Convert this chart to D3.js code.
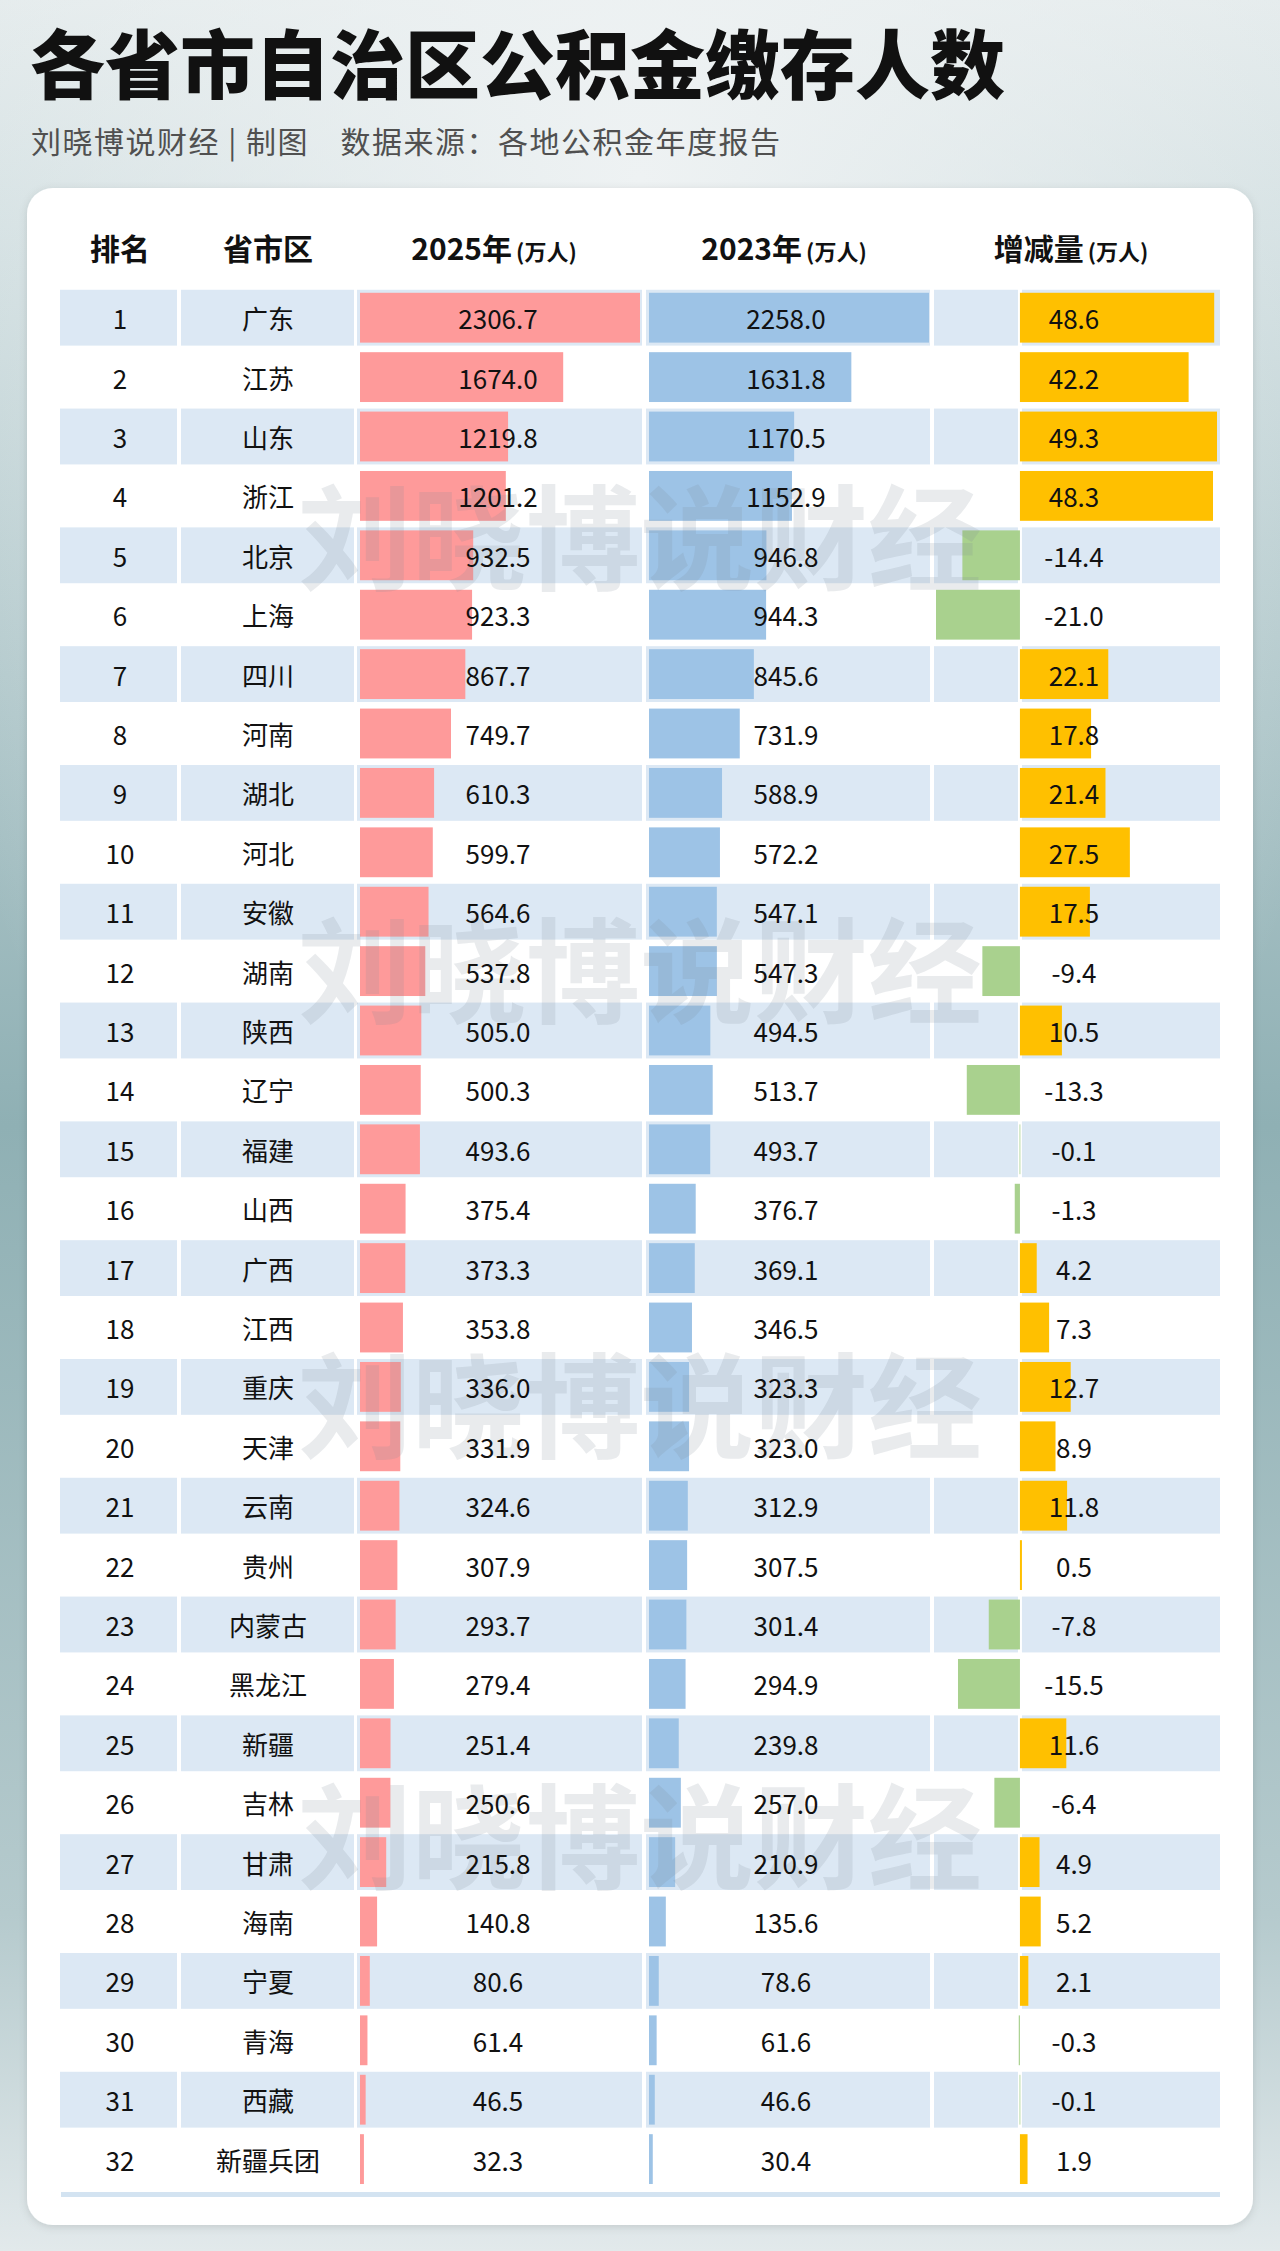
<!DOCTYPE html>
<html>
<head>
<meta charset="utf-8">
<script src="https://cdn.jsdelivr.net/npm/d3@7"></script>
<style>
  html, body { margin: 0; padding: 0; }
  body { width: 1280px; height: 2251px; overflow: hidden; }
  svg { display: block; }
</style>
</head>
<body>
<div id="chart"></div>
<script>
"use strict";

const provinces = ["广东", "江苏", "山东", "浙江", "北京", "上海", "四川", "河南", "湖北", "河北",
  "安徽", "湖南", "陕西", "辽宁", "福建", "山西", "广西", "江西", "重庆", "天津",
  "云南", "贵州", "内蒙古", "黑龙江", "新疆", "吉林", "甘肃", "海南", "宁夏", "青海",
  "西藏", "新疆兵团"];
const ranks = d3.range(1, provinces.length + 1);
const v2025 = [2306.7, 1674.0, 1219.8, 1201.2, 932.5, 923.3, 867.7, 749.7, 610.3, 599.7,
  564.6, 537.8, 505.0, 500.3, 493.6, 375.4, 373.3, 353.8, 336.0, 331.9,
  324.6, 307.9, 293.7, 279.4, 251.4, 250.6, 215.8, 140.8, 80.6, 61.4,
  46.5, 32.3];
const v2023 = [2258.0, 1631.8, 1170.5, 1152.9, 946.8, 944.3, 845.6, 731.9, 588.9, 572.2,
  547.1, 547.3, 494.5, 513.7, 493.7, 376.7, 369.1, 346.5, 323.3, 323.0,
  312.9, 307.5, 301.4, 294.9, 239.8, 257.0, 210.9, 135.6, 78.6, 61.6,
  46.6, 30.4];
const change = [48.6, 42.2, 49.3, 48.3, -14.4, -21.0, 22.1, 17.8, 21.4, 27.5,
  17.5, -9.4, 10.5, -13.3, -0.1, -1.3, 4.2, 7.3, 12.7, 8.9,
  11.8, 0.5, -7.8, -15.5, 11.6, -6.4, 4.9, 5.2, 2.1, -0.3,
  -0.1, 1.9];
const headers = [
  { main: "排名", sub: "", x: 120 },
  { main: "省市区", sub: "", x: 268 },
  { main: "2025年", sub: "(万人)", x: 494 },
  { main: "2023年", sub: "(万人)", x: 784 },
  { main: "增减量", sub: "(万人)", x: 1071 },
];

const W = 1280, H = 2251;
const font = "'Noto Sans CJK SC', 'Noto Sans', sans-serif";

const rows = ranks.map((r, i) => ({
  rank: r, name: provinces[i], a: v2025[i], b: v2023[i], c: change[i],
}));

const svg = d3.select("#chart").append("svg")
  .attr("width", W).attr("height", H)
  .style("font-family", font);

// background
const defs = svg.append("defs");
const bgV = defs.append("linearGradient").attr("id", "bgV")
  .attr("x1", 0).attr("y1", 0).attr("x2", 0).attr("y2", 1);
bgV.append("stop").attr("offset", "0%").attr("stop-color", "#e4ebec");
bgV.append("stop").attr("offset", "10%").attr("stop-color", "#d3e0e2");
bgV.append("stop").attr("offset", "50%").attr("stop-color", "#8fb0b4");
bgV.append("stop").attr("offset", "85%").attr("stop-color", "#b5cacd");
bgV.append("stop").attr("offset", "100%").attr("stop-color", "#e2e9eb");
const bgR = defs.append("radialGradient").attr("id", "bgR")
  .attr("cx", "50%").attr("cy", "8%").attr("r", "60%");
bgR.append("stop").attr("offset", "0%").attr("stop-color", "#eef2f3").attr("stop-opacity", 1);
bgR.append("stop").attr("offset", "100%").attr("stop-color", "#eef2f3").attr("stop-opacity", 0);
const shadow = defs.append("filter").attr("id", "shadow")
  .attr("x", "-5%").attr("y", "-5%").attr("width", "110%").attr("height", "110%");
shadow.append("feDropShadow").attr("dx", 0).attr("dy", 2).attr("stdDeviation", 4)
  .attr("flood-color", "#000").attr("flood-opacity", 0.12);

svg.append("rect").attr("width", W).attr("height", H).attr("fill", "url(#bgV)");
svg.append("rect").attr("width", W).attr("height", H).attr("fill", "url(#bgR)");

// title
svg.append("text")
  .attr("x", 30).attr("y", 93)
  .attr("font-size", 75).attr("font-weight", 900)
  .attr("fill", "#111")
  .text("各省市自治区公积金缴存人数");

svg.append("text")
  .attr("x", 31).attr("y", 153)
  .attr("font-size", 30)
  .attr("letter-spacing", 1.5)
  .attr("fill", "#505050")
  .text("刘晓博说财经 | 制图　数据来源：各地公积金年度报告");

// card
svg.append("rect")
  .attr("x", 27).attr("y", 188).attr("width", 1226).attr("height", 2037)
  .attr("rx", 26).attr("fill", "#fff")
  .attr("filter", "url(#shadow)");

// headers
const head = svg.append("g").selectAll("text")
  .data(headers).enter().append("text")
  .attr("x", (d) => d.x).attr("y", 260)
  .attr("text-anchor", "middle")
  .attr("font-weight", 700)
  .attr("fill", "#111");
head.append("tspan").attr("font-size", 30).text((d) => d.main);
head.append("tspan").attr("font-size", 22).attr("dx", 4).text((d) => d.sub);

// scales
const y = d3.scaleBand()
  .domain(ranks)
  .range([288, 288 + ranks.length * 59.4])
  .paddingInner(0.06)
  .paddingOuter(0.03);

const xA = d3.scaleLinear().domain([0, d3.max(v2025)]).range([360, 640]);
const xB = d3.scaleLinear().domain([0, d3.max(v2023)]).range([649, 929]);
const xC = d3.scaleLinear().domain([d3.min(change), d3.max(change)]).range([936, 1217]);

const zeroX = xC(0);
const cells = [
  [60, 177], [181, 354], [357, 642], [646, 930], [934, zeroX - 2], [zeroX + 2, 1220],
];

// striped rows
const stripe = svg.append("g");
rows.filter((d) => d.rank % 2 === 1).forEach((d) => {
  stripe.selectAll(null)
    .data(cells).enter().append("rect")
    .attr("x", (c) => c[0])
    .attr("y", y(d.rank))
    .attr("width", (c) => c[1] - c[0])
    .attr("height", y.bandwidth())
    .attr("fill", "#dce8f4");
});

const barH = y.bandwidth() - 6;

// 2025 bars
svg.append("g").selectAll("rect")
  .data(rows).enter().append("rect")
  .attr("x", xA(0))
  .attr("y", (d) => y(d.rank) + 3)
  .attr("width", (d) => xA(d.a) - xA(0))
  .attr("height", barH)
  .attr("fill", "#fe9a9a");

// 2023 bars
svg.append("g").selectAll("rect")
  .data(rows).enter().append("rect")
  .attr("x", xB(0))
  .attr("y", (d) => y(d.rank) + 3)
  .attr("width", (d) => xB(d.b) - xB(0))
  .attr("height", barH)
  .attr("fill", "#9dc3e6");

// change bars
svg.append("g").selectAll("rect")
  .data(rows).enter().append("rect")
  .attr("x", (d) => Math.min(xC(0), xC(d.c)))
  .attr("y", (d) => y(d.rank) + 3)
  .attr("width", (d) => Math.max(0.8, Math.abs(xC(d.c) - xC(0))))
  .attr("height", barH)
  .attr("fill", (d) => (d.c < 0 ? "#a9d18e" : "#ffc000"));

// bottom rule
svg.append("rect")
  .attr("x", 61).attr("y", 2192).attr("width", 1159).attr("height", 5)
  .attr("fill", "#d3e3f1");

// watermark
const wmY = [531, 964, 1399, 1830];
svg.append("g").selectAll("text")
  .data(wmY).enter().append("text")
  .attr("x", 640).attr("y", (d) => d)
  .attr("text-anchor", "middle")
  .attr("dominant-baseline", "central")
  .attr("font-size", 114).attr("font-weight", 700)
  .attr("fill", "#7f8a94").attr("fill-opacity", 0.17)
  .text("刘晓博说财经");

// cell texts
const cols = [
  { x: 120, f: (d) => d.rank },
  { x: 268, f: (d) => d.name },
  { x: 498, f: (d) => d.a.toFixed(1) },
  { x: 786, f: (d) => d.b.toFixed(1) },
  { x: 1074, f: (d) => d.c.toFixed(1) },
];
const textG = svg.append("g");
cols.forEach((c) => {
  textG.append("g").selectAll("text")
    .data(rows).enter().append("text")
    .attr("x", c.x)
    .attr("y", (d) => y(d.rank) + y.bandwidth() / 2)
    .attr("text-anchor", "middle")
    .attr("dominant-baseline", "central")
    .attr("font-size", 26)
    .attr("fill", "#111")
    .text(c.f);
});
</script>
</body>
</html>
